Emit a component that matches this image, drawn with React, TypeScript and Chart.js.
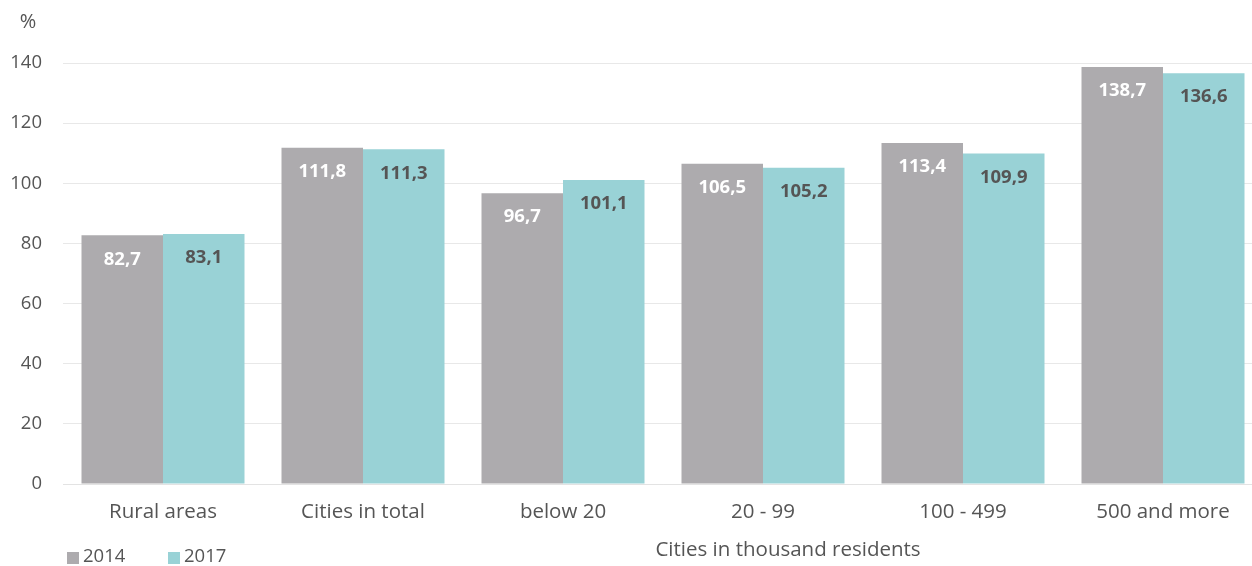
import React, { useEffect, useRef } from "react";
import { Chart, registerables } from "chart.js";

Chart.register(...registerables);

const categories = ["Rural areas", "Cities in total", "below 20", "20 - 99", "100 - 499", "500 and more"];
const seriesNames = ["2014", "2017"];
const values2014 = [82.7, 111.8, 96.7, 106.5, 113.4, 138.7];
const values2017 = [83.1, 111.3, 101.1, 105.2, 109.9, 136.6];
const yUnit = "%";
const xTitle = "Cities in thousand residents";

const FONT = "'Open Sans', 'Noto Sans', 'DejaVu Sans', sans-serif";
const TEXT = "#555555";
const GRAY = "#adabae";
const TEAL = "#99d2d6";
const LABEL_COLORS = ["#ffffff", "#555555"];

const fmt = (v: number) => v.toFixed(1).replace(".", ",");

const overlayPlugin = {
  id: "overlay",
  afterDatasetsDraw(chart: any) {
    const ctx = chart.ctx;
    ctx.save();
    ctx.textAlign = "center";
    ctx.textBaseline = "middle";
    ctx.font = `bold 18.5px ${FONT}`;
    chart.data.datasets.forEach((ds: any, i: number) => {
      const meta = chart.getDatasetMeta(i);
      meta.data.forEach((bar: any, j: number) => {
        ctx.fillStyle = LABEL_COLORS[i];
        ctx.fillText(fmt(ds.data[j]), bar.x, bar.y + 24);
      });
    });
    ctx.restore();
  },
  afterDraw(chart: any) {
    const ctx = chart.ctx;
    ctx.save();
    ctx.fillStyle = TEXT;
    ctx.textBaseline = "middle";
    ctx.textAlign = "center";
    ctx.font = `20px ${FONT}`;
    ctx.fillText(yUnit, 28, 22);
    ctx.font = `20.5px ${FONT}`;
    ctx.fillText(xTitle, 788, 550);
    // legend
    ctx.font = `18.5px ${FONT}`;
    ctx.textAlign = "left";
    let x = 67;
    chart.data.datasets.forEach((ds: any) => {
      ctx.fillStyle = ds.backgroundColor;
      ctx.fillRect(x, 552, 12, 12);
      ctx.fillStyle = TEXT;
      ctx.fillText(ds.label, x + 16, 557);
      x += 101;
    });
    ctx.restore();
  },
};

export default function App() {
  const ref = useRef<HTMLCanvasElement>(null);
  useEffect(() => {
    if (!ref.current) return;
    const chart = new Chart(ref.current, {
      type: "bar",
      data: {
        labels: categories,
        datasets: [
          { label: seriesNames[0], data: values2014, backgroundColor: GRAY, borderWidth: 0 },
          { label: seriesNames[1], data: values2017, backgroundColor: TEAL, borderWidth: 0 },
        ],
      },
      options: {
        animation: false,
        responsive: false,
        devicePixelRatio: 1,
        layout: { padding: { top: 63, left: 0, right: 0, bottom: 0 } },
        datasets: { bar: { categoryPercentage: 0.815, barPercentage: 1 } },
        plugins: { legend: { display: false }, tooltip: { enabled: false } },
        scales: {
          x: {
            grid: { display: false },
            border: { display: true, color: "#e3e3e3" },
            ticks: { color: TEXT, font: { family: FONT, size: 20.5 }, padding: 8 },
            afterFit: (s: any) => { s.height = 82; },
          },
          y: {
            min: 0,
            max: 140,
            ticks: { stepSize: 20, color: TEXT, font: { family: FONT, size: 18.5 }, padding: 21 },
            grid: { color: "#e8e8e8", drawTicks: false },
            border: { display: false },
            afterFit: (s: any) => { s.width = 63; },
          },
        },
      },
      plugins: [overlayPlugin],
    });
    return () => chart.destroy();
  }, []);
  return (
    <div style={{ position: "fixed", left: 0, top: 0, width: 1252, height: 566, overflow: "hidden", background: "#fff" }}>
      <canvas ref={ref} width={1263} height={566} />
    </div>
  );
}
